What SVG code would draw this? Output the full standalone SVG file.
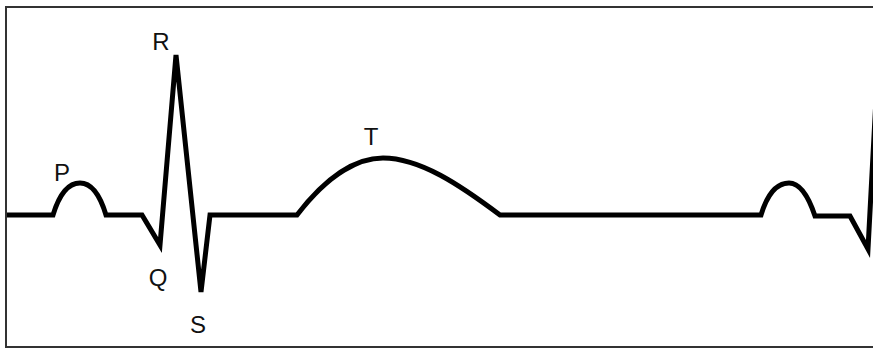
<svg xmlns="http://www.w3.org/2000/svg" width="873" height="349" viewBox="0 0 873 349">
<style>
.frame{fill:#fff;stroke:#333;stroke-width:2}
.wave{fill:none;stroke:#000;stroke-width:5;stroke-linejoin:miter;stroke-linecap:butt}
.lbl{font-family:"Liberation Sans",Arial,sans-serif;font-size:24px;fill:#111;text-anchor:middle}
</style>
<rect class="frame" x="6" y="7" width="880" height="340"/>
<g id="ecg">
<path class="wave" d="M7,215 H53 C60,192 70,183 80,183 C92,183 100,195 106,215 H142 L160,245 L176,55 L201,292 L210,215 H297 C330,172 360,158 383,158 C420,158 460,185 500,215 H761 C768,192 778,183 789,183 C800,183 808,195 815,216 H850 L868,249 L877,80"/>
</g>
<g id="labels">
<text class="lbl" x="62" y="181">P</text>
<text class="lbl" x="161" y="50">R</text>
<text class="lbl" x="158" y="286">Q</text>
<text class="lbl" x="198" y="333">S</text>
<text class="lbl" x="371" y="145">T</text>
</g>
</svg>
